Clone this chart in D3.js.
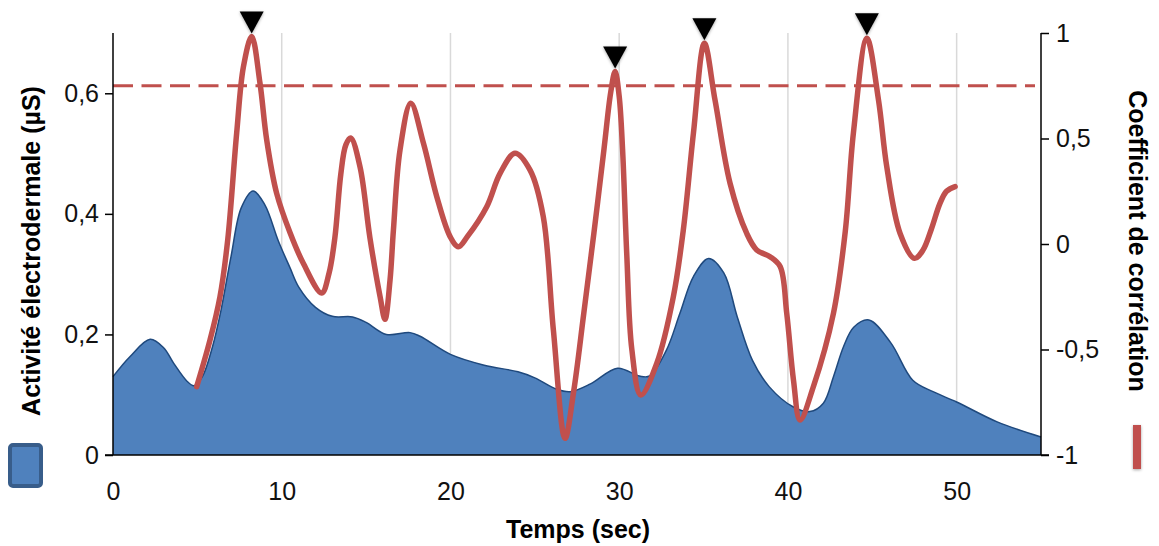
<!DOCTYPE html>
<html>
<head>
<meta charset="utf-8">
<script src="https://cdn.jsdelivr.net/npm/d3@7"></script>
<style>
  html, body { margin: 0; padding: 0; background: #fff; }
  svg { display: block; font-family: "Liberation Sans", Arial, sans-serif; }
</style>
</head>
<body>
<svg id="chart" width="1159" height="546"></svg>
<script>
// ---- data ----
const edaTime  = [0, 1.0, 2.2, 3.0, 3.6, 4.4, 4.8, 5.3, 5.9, 6.4, 7.0, 7.6, 8.3, 9.0, 9.8, 10.5, 11.0, 12.0, 13.0, 14.2, 15.0, 16.2, 17.6, 18.2, 20.0, 22.0, 24.0, 25.0, 26.3, 27.1, 28.3, 29.9, 31.2, 31.8, 32.8, 33.6, 34.4, 35.3, 36.2, 37.0, 37.9, 38.9, 40.3, 41.3, 42.1, 42.7, 43.3, 43.9, 44.8, 46.1, 47.4, 48.6, 50.0, 52.4, 55.0];
const edaValue = [0.130, 0.163, 0.192, 0.178, 0.152, 0.122, 0.115, 0.130, 0.180, 0.240, 0.330, 0.410, 0.438, 0.415, 0.355, 0.310, 0.279, 0.245, 0.230, 0.229, 0.220, 0.200, 0.203, 0.197, 0.167, 0.149, 0.138, 0.128, 0.109, 0.105, 0.118, 0.144, 0.131, 0.131, 0.174, 0.235, 0.296, 0.326, 0.302, 0.229, 0.157, 0.113, 0.080, 0.072, 0.086, 0.130, 0.180, 0.212, 0.224, 0.186, 0.124, 0.105, 0.088, 0.055, 0.030];

const corrTime  = [4.96, 5.75, 6.34, 6.8, 7.33, 7.73, 8.22, 8.71, 9.11, 9.7, 10.5, 11.27, 12.37, 12.8, 13.15, 13.5, 13.8, 14.09, 14.64, 15.23, 15.83, 16.12, 16.42, 16.62, 17.01, 17.65, 18.4, 19.19, 19.98, 20.47, 21.0, 22.15, 22.94, 23.83, 24.72, 25.5, 26.1, 26.79, 27.3, 27.9, 28.5, 29.1, 29.5, 29.76, 30.0, 30.2, 30.45, 30.75, 31.28, 32.23, 33.21, 33.8, 34.4, 35.05, 35.68, 36.57, 37.56, 38.15, 38.94, 39.54, 39.93, 40.33, 40.72, 41.51, 42.7, 43.4, 43.88, 44.68, 45.37, 45.86, 46.65, 47.5, 48.0, 48.5, 49.0, 49.4, 49.91];
const corrValue = [-0.676, -0.455, -0.25, 0.02, 0.526, 0.84, 0.983, 0.763, 0.493, 0.24, 0.052, -0.09, -0.232, -0.14, 0.03, 0.33, 0.47, 0.502, 0.366, 0.028, -0.25, -0.357, -0.17, 0.066, 0.445, 0.667, 0.477, 0.224, 0.035, -0.013, 0.035, 0.177, 0.335, 0.43, 0.35, 0.13, -0.408, -0.921, -0.7, -0.33, 0.05, 0.45, 0.72, 0.817, 0.7, 0.45, -0.05, -0.5, -0.716, -0.565, -0.25, 0.066, 0.525, 0.951, 0.682, 0.288, 0.05, -0.028, -0.06, -0.107, -0.328, -0.645, -0.834, -0.676, -0.328, 0.06, 0.525, 0.975, 0.682, 0.366, 0.05, -0.068, -0.03, 0.07, 0.19, 0.25, 0.272];

const peakTime  = [8.22, 29.76, 35.05, 44.68];
const peakValue = [0.983, 0.817, 0.951, 0.975];
const threshold = [0.75];

const xTicks     = [0, 10, 20, 30, 40, 50];
const leftTicks  = [0, 0.2, 0.4, 0.6];
const rightTicks = [-1, -0.5, 0, 0.5, 1];

const xTitle     = "Temps (sec)";
const leftTitle  = "Activité électrodermale (µS)";
const rightTitle = "Coefficient de corrélation";

// ---- layout ----
const svg = d3.select("#chart");
const L = 113, R = 1041, T = 33, B = 455;
const RED = "#c0504d", BLUE = "#4f81bd", NAVY = "#1f497d";

const x  = d3.scaleLinear().domain([0, 55]).range([L, R]);
const yL = d3.scaleLinear().domain([0, 0.7]).range([B, T]);
const yR = d3.scaleLinear().domain([-1, 1]).range([B, T]);

const loc = d3.formatLocale({decimal: ",", thousands: " ", grouping: [3], currency: ["", ""], minus: "-"});
const fmt = v => loc.format("~g")(v);

const defs = svg.append("defs");
const sh = defs.append("filter").attr("id", "shadow").attr("x", "-50%").attr("y", "-50%").attr("width", "200%").attr("height", "200%");
sh.append("feDropShadow").attr("dx", 0).attr("dy", 1).attr("stdDeviation", 1.5).attr("flood-color", "#000").attr("flood-opacity", 0.35);

// gridlines
svg.append("g").selectAll("line").data(xTicks.filter(d => d > 0)).join("line")
  .attr("x1", d => x(d)).attr("x2", d => x(d)).attr("y1", T).attr("y2", B)
  .attr("stroke", "#d9d9d9").attr("stroke-width", 1.5);

// area
const curve = d3.curveCatmullRom.alpha(0.5);
const edaData = edaTime.map((t, i) => ({t, v: edaValue[i]}));
svg.append("path").datum(edaData)
  .attr("d", d3.area().x(d => x(d.t)).y0(yL(0)).y1(d => yL(d.v)).curve(curve))
  .attr("fill", BLUE);
svg.append("path").datum(edaData)
  .attr("d", d3.line().x(d => x(d.t)).y(d => yL(d.v)).curve(curve))
  .attr("fill", "none").attr("stroke", NAVY).attr("stroke-width", 1.5);

// threshold dashed line
svg.append("g").selectAll("line").data(threshold).join("line")
  .attr("x1", L).attr("x2", R - 6).attr("y1", d => yR(d)).attr("y2", d => yR(d))
  .attr("stroke", RED).attr("stroke-width", 3).attr("stroke-dasharray", "20,8.5");

// correlation line
const corrData = corrTime.map((t, i) => ({t, v: corrValue[i]}));
svg.append("path").datum(corrData)
  .attr("d", d3.line().x(d => x(d.t)).y(d => yR(d.v)).curve(curve))
  .attr("fill", "none").attr("stroke", RED).attr("stroke-width", 5.5)
  .attr("stroke-linecap", "round").attr("stroke-linejoin", "round");

// peak markers
const peaks = peakTime.map((t, i) => ({t, v: peakValue[i]}));
svg.append("g").selectAll("path").data(peaks).join("path")
  .attr("d", d => {
    const cx = x(d.t), tip = yR(d.v) - 3, w = 12, h = 22;
    return `M${cx - w},${tip - h}L${cx + w},${tip - h}L${cx},${tip}Z`;
  })
  .attr("fill", "#000").attr("filter", "url(#shadow)");

// axes
const axisStyle = g => {
  g.select(".domain").remove();
  g.selectAll(".tick line").attr("stroke", "#000").attr("stroke-width", 1.5);
  g.selectAll(".tick text").attr("font-size", 25).attr("fill", "#111")
    .attr("font-family", "'Liberation Sans', Arial, sans-serif");
};

svg.append("g").attr("transform", `translate(${L},0)`)
  .call(d3.axisLeft(yL).tickValues(leftTicks).tickFormat(fmt).tickSize(8).tickPadding(6))
  .call(axisStyle);

svg.append("g").attr("transform", `translate(${R},0)`)
  .call(d3.axisRight(yR).tickValues(rightTicks).tickFormat(fmt).tickSize(8).tickPadding(7))
  .call(axisStyle);

svg.append("g").attr("transform", `translate(0,${B})`)
  .call(d3.axisBottom(x).tickValues(xTicks).tickFormat(fmt).tickSize(0).tickPadding(27))
  .call(axisStyle);

// axis lines
svg.append("line").attr("x1", L).attr("x2", L).attr("y1", T).attr("y2", B).attr("stroke", "#000").attr("stroke-width", 1.5);
svg.append("line").attr("x1", R).attr("x2", R).attr("y1", T).attr("y2", B).attr("stroke", "#000").attr("stroke-width", 1.5);
svg.append("line").attr("x1", L - 8).attr("x2", R + 8).attr("y1", B).attr("y2", B).attr("stroke", "#000").attr("stroke-width", 1.5);

// titles
svg.append("text").attr("x", (L + R) / 2 + 1).attr("y", 538)
  .attr("text-anchor", "middle").attr("font-size", 25).attr("font-weight", "bold").attr("fill", "#000").text(xTitle);
svg.append("text").attr("transform", "translate(40,251) rotate(-90)")
  .attr("text-anchor", "middle").attr("font-size", 25).attr("font-weight", "bold").attr("fill", "#000").text(leftTitle);
svg.append("text").attr("transform", "translate(1129,241) rotate(90)")
  .attr("text-anchor", "middle").attr("font-size", 25).attr("font-weight", "bold").attr("fill", "#000").text(rightTitle);

// legend symbols
svg.append("rect").attr("x", 10).attr("y", 445).attr("width", 31).attr("height", 41).attr("rx", 3)
  .attr("fill", BLUE).attr("stroke", "#385d8a").attr("stroke-width", 4);
svg.append("rect").attr("x", 1133).attr("y", 425).attr("width", 8).attr("height", 44)
  .attr("fill", RED).attr("filter", "url(#shadow)");
</script>
</body>
</html>
